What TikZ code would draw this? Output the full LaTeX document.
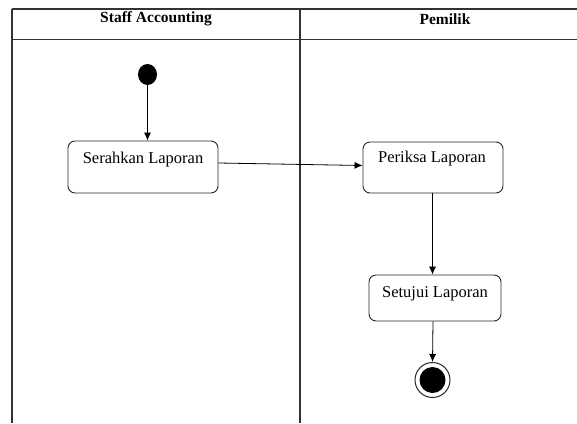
\documentclass[tikz,border=0pt]{standalone}
\usepackage{fontspec}
\setmainfont{Liberation Serif}
\usetikzlibrary{arrows.meta,shapes.geometric}
\begin{document}
\begin{tikzpicture}[x=1pt,y=-1pt,
  frame/.style={line width=1.3pt,draw=black!80},
  actbox/.style={draw=black!85,line width=0.9pt,rounded corners=7pt,inner sep=0pt},
  lbl/.style={font=\fontsize{16.5}{18}\selectfont,inner sep=0pt},
  hdr/.style={font=\fontsize{15.5}{17}\selectfont\bfseries,inner sep=0pt},
  arr/.style={draw=black,line width=0.8pt,-{Latex[length=8pt,width=7pt]}}]
\useasboundingbox (0,0) rectangle (577,423);
% swimlane frame
\coordinate (tl) at (12,9);
\coordinate (tr) at (577,9);
\coordinate (hl) at (12,39.5);
\coordinate (hr) at (577,39.5);
\coordinate (bl) at (12,423);
\coordinate (mt) at (300,9);
\coordinate (mb) at (300,423);
\draw[frame] (tl) -- (tr);
\draw[frame] (hl) -- (hr);
\draw[frame] (tl) -- (bl);
\draw[frame] (mt) -- (mb);
\node[hdr] (h1) at (156,19) {Staff Accounting};
\node[hdr] (h2) at (445,19) {Pemilik};
% activities
\node[ellipse,fill=black,inner sep=0pt,minimum width=19pt,minimum height=21pt] (init) at (147.5,74.5) {};
\node[actbox,minimum width=150pt,minimum height=52pt] (s) at (143,167) {};
\node[lbl] (st) at (143,160) {Serahkan Laporan};
\node[actbox,minimum width=140pt,minimum height=51pt] (p) at (433,167.5) {};
\node[lbl] (pt) at (432,159) {Periksa Laporan};
\node[actbox,minimum width=132pt,minimum height=46pt] (t) at (435,298) {};
\node[lbl] (tt) at (435,294) {Setujui Laporan};
\node[circle,draw=black!85,line width=1pt,minimum size=35pt,inner sep=0pt] (fin) at (432.5,380) {};
\node[circle,fill=black,minimum size=26pt,inner sep=0pt] (finc) at (fin.center) {};
% flows
\draw[arr] (init.south) -- (init.south |- s.north);
\draw[arr] ([yshift=4pt]s.east) -- ([yshift=2pt]p.west);
\draw[arr] ([xshift=-0.5pt]p.south) -- ([xshift=-0.5pt]p.south |- t.north);
\draw[arr] ([xshift=-2pt]t.south) -- (fin.north);
\end{tikzpicture}
\end{document}
